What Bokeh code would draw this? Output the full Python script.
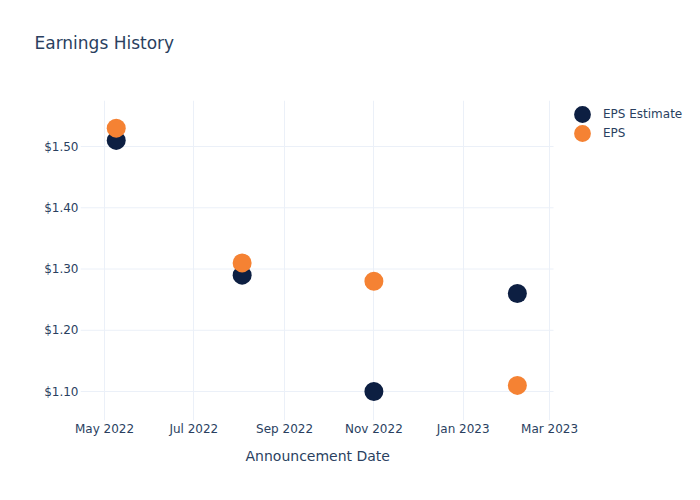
import pandas as pd
from bokeh.plotting import figure
from bokeh.models import (ColumnDataSource, FixedTicker, NumeralTickFormatter,
                          DatetimeTickFormatter, Range1d, Legend, LegendItem, Title)
from bokeh.embed import file_html
from bokeh.resources import INLINE

dates = ["2022-05-09", "2022-08-03", "2022-11-01", "2023-02-07"]
eps_estimate = [1.51, 1.29, 1.10, 1.26]
eps_actual = [1.53, 1.31, 1.28, 1.11]
x_ticks = ["2022-05-01", "2022-07-01", "2022-09-01", "2022-11-01", "2023-01-01", "2023-03-01"]
y_ticks = [1.10, 1.20, 1.30, 1.40, 1.50]

FONT = "DejaVu Sans"
TXT = "#2a3f5f"
GRID = "#ebf0f8"

x = pd.to_datetime(dates)
src = ColumnDataSource(dict(x=x, est=eps_estimate, eps=eps_actual))

x_start = pd.Timestamp("2022-04-14 14:00")
x_end = pd.Timestamp("2023-03-03 17:00")        # end of plotting area
x_canvas_end = x_end + pd.Timedelta(days=100.4)  # frame extends under legend

p = figure(width=700, height=500, output_backend="svg", toolbar_location=None,
           x_axis_type="datetime", title_location=None,
           x_range=Range1d(x_start, x_canvas_end),
           y_range=Range1d(1.0527, 1.5751),
           min_border_left=80, min_border_right=0, min_border_top=100, min_border_bottom=80)
p.outline_line_color = None
p.background_fill_color = "white"
p.border_fill_color = "white"

# horizontal grid lines limited to the plotting area
gsrc = ColumnDataSource(dict(y=y_ticks, x0=[x_start] * len(y_ticks), x1=[x_end] * len(y_ticks)))
p.segment(x0="x0", x1="x1", y0="y", y1="y", source=gsrc, line_color=GRID, line_width=1)

r1 = p.scatter("x", "est", source=src, size=19, color="#0d1f42", line_color=None)
r2 = p.scatter("x", "eps", source=src, size=19, color="#f58233", line_color=None)

xt = [pd.Timestamp(t).value // 10**6 for t in x_ticks]
p.xaxis.ticker = FixedTicker(ticks=xt)
p.xaxis.formatter = DatetimeTickFormatter(months="%b %Y", days="%b %Y", years="%b %Y")
p.yaxis.ticker = FixedTicker(ticks=y_ticks)
p.yaxis.formatter = NumeralTickFormatter(format="$0.00")

for ax in (p.xaxis[0], p.yaxis[0]):
    ax.axis_line_color = None
    ax.major_tick_line_color = None
    ax.minor_tick_line_color = None
    ax.major_tick_out = 0
    ax.major_tick_in = 0
    ax.major_label_text_font = FONT
    ax.major_label_text_font_size = "12px"
    ax.major_label_text_color = TXT

p.xaxis.major_label_standoff = 1
p.yaxis.major_label_standoff = 2

p.xgrid.grid_line_color = GRID
p.ygrid.grid_line_color = None

common = dict(orientation="vertical", padding=0, margin=0, spacing=0,
              glyph_width=42, glyph_height=42, label_height=19, label_standoff=0,
              label_text_font=FONT, label_text_font_size="12px", label_text_color=TXT,
              border_line_color=None, background_fill_alpha=0)
leg1 = Legend(items=[LegendItem(label="EPS Estimate", renderers=[r1])], location=(481, 285), **common)
leg2 = Legend(items=[LegendItem(label="EPS", renderers=[r2])], location=(481, 266), **common)
p.add_layout(leg1, "center")
p.add_layout(leg2, "center")

# title box made taller with trailing blank lines so that its first line sits higher
main_title = Title(text="Earnings History\n\n", text_font=FONT, text_font_size="17px",
                   text_font_style="normal", text_color=TXT, align="left", offset=-46,
                   vertical_align="top", standoff=12)
p.add_layout(main_title, "above")

xlabel = Title(text="Announcement Date", text_font=FONT, text_font_size="14px",
               text_font_style="normal", text_color=TXT, align="left", offset=165,
               standoff=14)
p.add_layout(xlabel, "below")

open("out.html", "w").write(file_html(p, INLINE))
